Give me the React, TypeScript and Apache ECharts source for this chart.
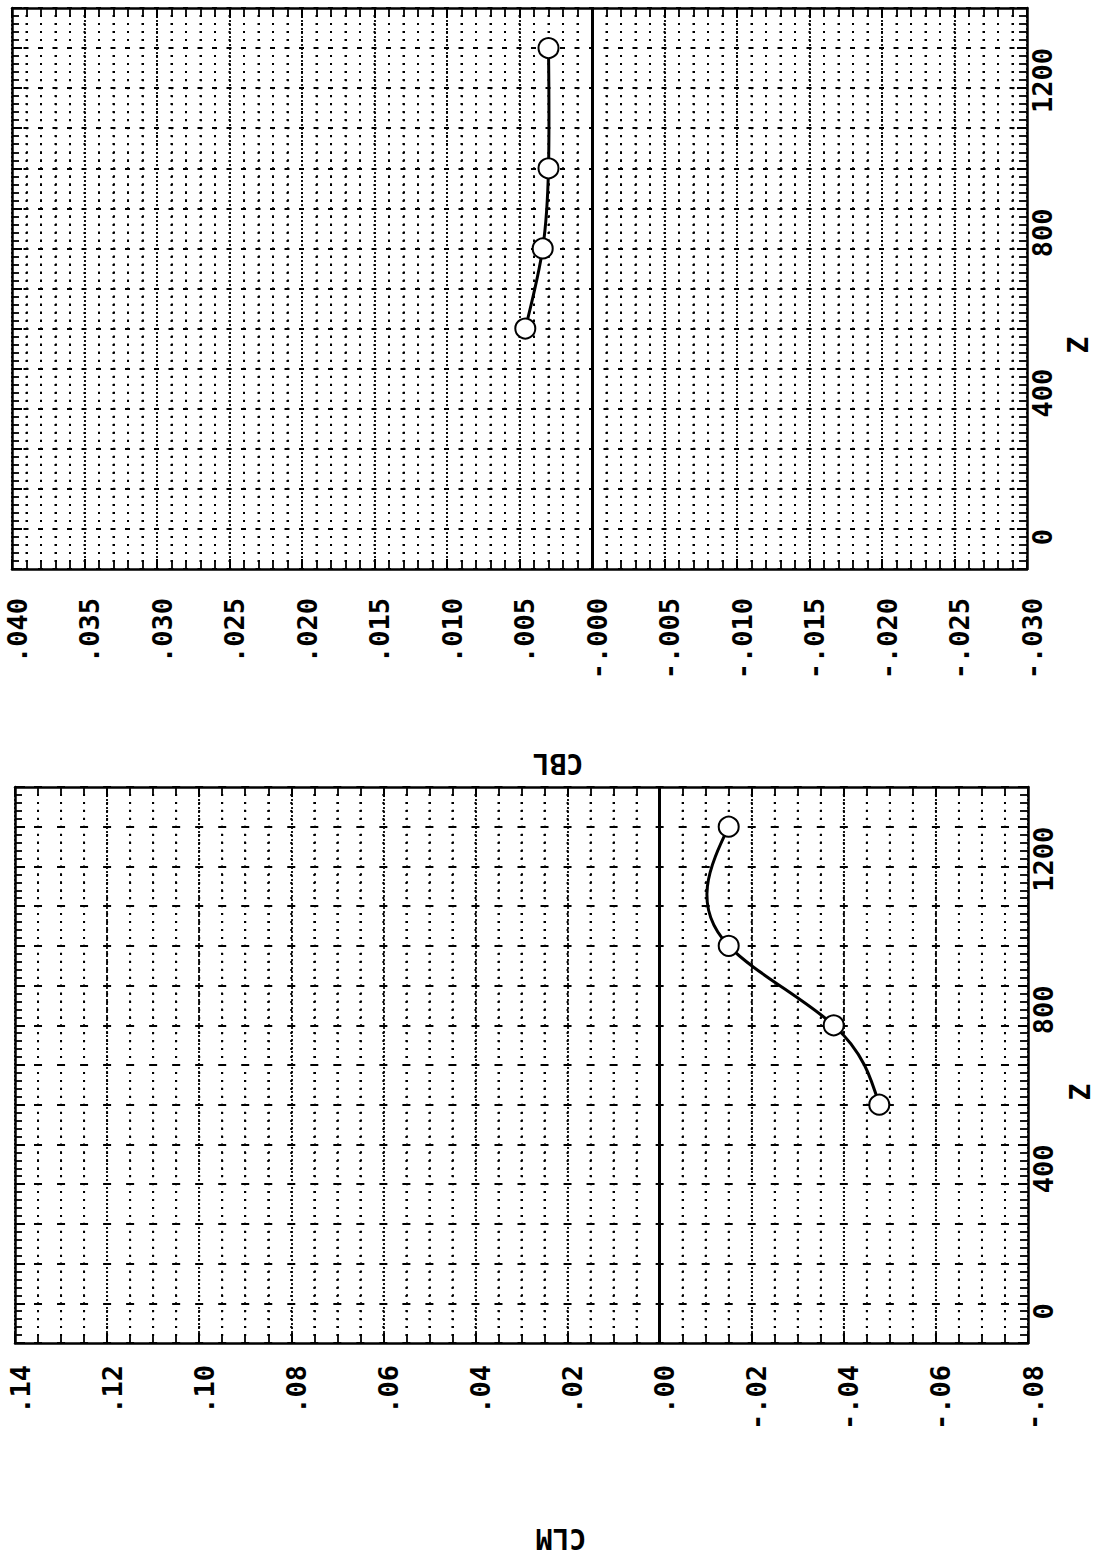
import React, { useEffect, useRef } from 'react';
import * as echarts from 'echarts';

// ---- data ----
const Z_VALUES = [500, 700, 900, 1200];
const CBL_VALUES = [0.0046, 0.0034, 0.003, 0.003];
const CLM_VALUES = [-0.0477, -0.0378, -0.015, -0.015];

// ---- tick labels ----
const CBL_TICK_VALUES = [0.04, 0.035, 0.03, 0.025, 0.02, 0.015, 0.01, 0.005, 0, -0.005, -0.01, -0.015, -0.02, -0.025, -0.03];
const CBL_TICK_LABELS = ['.040', '.035', '.030', '.025', '.020', '.015', '.010', '.005', '-.000', '-.005', '-.010', '-.015', '-.020', '-.025', '-.030'];
const CLM_TICK_VALUES = [0.14, 0.12, 0.1, 0.08, 0.06, 0.04, 0.02, 0, -0.02, -0.04, -0.06, -0.08];
const CLM_TICK_LABELS = ['.14', '.12', '.10', '.08', '.06', '.04', '.02', '.00', '-.02', '-.04', '-.06', '-.08'];
const Z_TICK_VALUES = [0, 400, 800, 1200];
const Z_TICK_LABELS = ['0', '400', '800', '1200'];

const FONT = 'DejaVu Sans Mono';
const INK = '#000';

function lookup(vals: number[], labels: string[]) {
  return (v: number) => {
    const i = vals.findIndex((t) => Math.abs(t - v) < 1e-9);
    return i >= 0 ? labels[i] : '';
  };
}

// natural cubic spline (value as a function of Z) second derivatives
function splineSecondDerivs(xs: number[], ys: number[]): number[] {
  const n = xs.length;
  const M = new Array(n).fill(0);
  if (n < 3) return M;
  const a: number[] = [], b: number[] = [], c: number[] = [], d: number[] = [];
  for (let i = 1; i < n - 1; i++) {
    const h0 = xs[i] - xs[i - 1];
    const h1 = xs[i + 1] - xs[i];
    a.push(h0);
    b.push(2 * (h0 + h1));
    c.push(h1);
    d.push(6 * ((ys[i + 1] - ys[i]) / h1 - (ys[i] - ys[i - 1]) / h0));
  }
  const m = b.length;
  for (let i = 1; i < m; i++) {
    const w = a[i] / b[i - 1];
    b[i] -= w * c[i - 1];
    d[i] -= w * d[i - 1];
  }
  const sol = new Array(m);
  sol[m - 1] = d[m - 1] / b[m - 1];
  for (let i = m - 2; i >= 0; i--) sol[i] = (d[i] - c[i] * sol[i + 1]) / b[i];
  for (let i = 0; i < m; i++) M[i + 1] = sol[i];
  return M;
}

function makeRenderItem(values: number[]) {
  const M = splineSecondDerivs(Z_VALUES, values);
  return (params: any, api: any) => {
    const i = params.dataIndex;
    if (i >= Z_VALUES.length - 1) return { type: 'group', children: [] };
    const z0 = Z_VALUES[i], z1 = Z_VALUES[i + 1];
    const v0 = values[i], v1 = values[i + 1];
    const h = z1 - z0;
    const s = (v1 - v0) / h;
    const d0 = s - (h * (2 * M[i] + M[i + 1])) / 6;
    const d1 = s + (h * (M[i] + 2 * M[i + 1])) / 6;
    const p0 = api.coord([v0, z0]);
    const c1 = api.coord([v0 + (d0 * h) / 3, z0 + h / 3]);
    const c2 = api.coord([v1 - (d1 * h) / 3, z1 - h / 3]);
    const p1 = api.coord([v1, z1]);
    return {
      type: 'bezierCurve',
      shape: { x1: p0[0], y1: p0[1], x2: p1[0], y2: p1[1], cpx1: c1[0], cpy1: c1[1], cpx2: c2[0], cpy2: c2[1] },
      style: { stroke: INK, lineWidth: 3, fill: null },
    };
  };
}

type PanelCfg = {
  grid: { left: number; top: number; width: number; height: number };
  vMin: number; vMax: number; vInterval: number; vMinorSplit: number;
  tickVals: number[]; tickLabels: string[]; labelMargin: number;
  values: number[]; majorDash: number;
};

const Z_MIN = -100, Z_MAX = 1300, Z_INTERVAL = 100, Z_MINOR_SPLIT = 5;

function buildPanel(cfg: PanelCfg, gi: number) {
  const { grid } = cfg;
  const vMinorCount = Math.round((cfg.vMax - cfg.vMin) / (cfg.vInterval / cfg.vMinorSplit));
  const zMinorCount = Math.round((Z_MAX - Z_MIN) / (Z_INTERVAL / Z_MINOR_SPLIT));
  const vMinorPx = grid.width / vMinorCount;
  const zMinorPx = grid.height / zMinorCount;
  const dot = 2;

  const common = {
    gridIndex: gi,
    type: 'value',
    axisLine: { show: true, onZero: false, lineStyle: { color: INK, width: 2.5 } },
    axisTick: { show: true, inside: true, length: 10, lineStyle: { color: INK, width: 2 } },
  };

  const xBottom = {
    ...common,
    position: 'bottom',
    min: cfg.vMin, max: cfg.vMax, interval: cfg.vInterval, inverse: true,
    minorTick: { show: true, splitNumber: cfg.vMinorSplit, length: 7, lineStyle: { color: INK, width: 1.8 } },
    axisLabel: {
      show: true, rotate: 90, margin: cfg.labelMargin, color: INK, fontFamily: FONT, fontSize: 27, fontWeight: 'bold',
      align: 'right', verticalAlign: 'top', lineHeight: 10,
      formatter: lookup(cfg.tickVals, cfg.tickLabels),
    },
    splitLine: { show: true, lineStyle: { color: INK, width: 1.8, type: [2, 2] } },
    minorSplitLine: { show: true, lineStyle: { color: INK, width: dot, type: [dot, zMinorPx - dot], dashOffset: dot / 2 } },
  };
  const xTop = {
    ...common,
    position: 'top',
    min: cfg.vMin, max: cfg.vMax, interval: cfg.vInterval, inverse: true,
    minorTick: { show: true, splitNumber: cfg.vMinorSplit, length: 7, lineStyle: { color: INK, width: 1.8 } },
    axisLabel: { show: false },
    splitLine: { show: false },
  };
  const yRight = {
    ...common,
    position: 'right',
    min: Z_MIN, max: Z_MAX, interval: Z_INTERVAL,
    minorTick: { show: true, splitNumber: Z_MINOR_SPLIT, length: 8, lineStyle: { color: INK, width: 1.8 } },
    axisLabel: {
      show: true, rotate: 90, align: 'right', verticalAlign: 'top', margin: 2, color: INK,
      fontFamily: FONT, fontSize: 27, fontWeight: 'bold',
      formatter: lookup(Z_TICK_VALUES, Z_TICK_LABELS),
    },
    splitLine: {
      show: true,
      lineStyle: { color: INK, width: 1.8, type: [cfg.majorDash, vMinorPx - cfg.majorDash], dashOffset: cfg.majorDash / 2 },
    },
    minorSplitLine: { show: true, lineStyle: { color: INK, width: dot, type: [dot, vMinorPx - dot], dashOffset: dot / 2 } },
  };
  const yLeft = {
    ...common,
    position: 'left',
    min: Z_MIN, max: Z_MAX, interval: Z_INTERVAL,
    minorTick: { show: true, splitNumber: Z_MINOR_SPLIT, length: 7, lineStyle: { color: INK, width: 1.8 } },
    axisLabel: { show: false },
    splitLine: { show: false },
  };

  const pts = cfg.values.map((v, i) => [v, Z_VALUES[i]]);
  const xi = gi * 2, yi = gi * 2;
  const series = [
    {
      type: 'custom', coordinateSystem: 'cartesian2d', xAxisIndex: xi, yAxisIndex: yi,
      data: pts, encode: { x: 0, y: 1 }, renderItem: makeRenderItem(cfg.values), z: 3, silent: true,
    },
    {
      type: 'scatter', xAxisIndex: xi, yAxisIndex: yi, data: pts,
      symbol: 'emptyCircle', symbolSize: 20, z: 4, silent: true,
      itemStyle: { color: INK, borderColor: INK, borderWidth: 2.8, opacity: 1 },
      markLine: {
        silent: true, symbol: 'none', label: { show: false },
        lineStyle: { color: INK, width: 3, type: 'solid', opacity: 1 },
        data: [{ xAxis: 0 }],
      },
    },
  ];
  return {
    grid: { ...grid, outerBoundsMode: 'none', containLabel: false },
    xAxis: [xBottom, xTop],
    yAxis: [yRight, yLeft],
    series,
  };
}

const TOP: PanelCfg = {
  grid: { left: 12, top: 8, width: 1015, height: 561 },
  vMin: -0.03, vMax: 0.04, vInterval: 0.005, vMinorSplit: 5,
  tickVals: CBL_TICK_VALUES, tickLabels: CBL_TICK_LABELS, labelMargin: 29,
  values: CBL_VALUES, majorDash: 5,
};
const BOTTOM: PanelCfg = {
  grid: { left: 15, top: 787, width: 1013, height: 556 },
  vMin: -0.08, vMax: 0.14, vInterval: 0.02, vMinorSplit: 4,
  tickVals: CLM_TICK_VALUES, tickLabels: CLM_TICK_LABELS, labelMargin: 22,
  values: CLM_VALUES, majorDash: 8,
};

export default function App() {
  const ref = useRef<HTMLDivElement>(null);
  useEffect(() => {
    if (!ref.current) return;
    const chart = echarts.init(ref.current, undefined, { renderer: 'svg' });
    const p1 = buildPanel(TOP, 0);
    const p2 = buildPanel(BOTTOM, 1);
    const titleStyle = { fill: INK, fontFamily: FONT, fontSize: 28, fontWeight: 'bold', align: 'center', verticalAlign: 'middle' };
    chart.setOption({
      animation: false,
      backgroundColor: '#fff',
      grid: [p1.grid, p2.grid],
      xAxis: [...p1.xAxis, ...p2.xAxis],
      yAxis: [...p1.yAxis, ...p2.yAxis],
      series: [...p1.series, ...p2.series],
      graphic: [
        { type: 'text', x: 1078, y: 345, rotation: Math.PI / 2, style: { ...titleStyle, text: 'Z' } },
        { type: 'text', x: 1080, y: 1092, rotation: Math.PI / 2, style: { ...titleStyle, text: 'Z' } },
        { type: 'text', x: 558, y: 763, rotation: Math.PI, style: { ...titleStyle, text: 'CBL' } },
        { type: 'text', x: 561, y: 1538, rotation: Math.PI, style: { ...titleStyle, text: 'CLM' } },
      ],
    });
    return () => chart.dispose();
  }, []);
  return (
    <div
      ref={ref}
      style={{ position: 'absolute', left: 0, top: 0, width: 1096, height: 1556, background: '#fff' }}
    />
  );
}
